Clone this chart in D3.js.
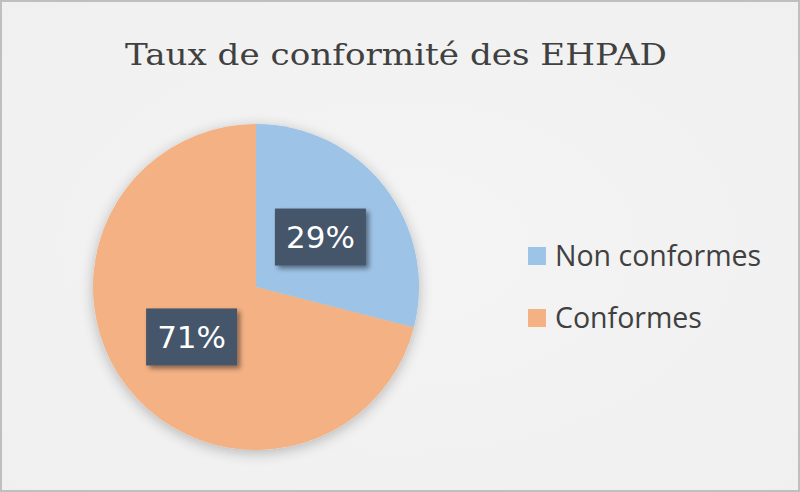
<!DOCTYPE html>
<html><head><meta charset="utf-8">
<script src="https://cdn.jsdelivr.net/npm/d3@7"></script>
<style>html,body{margin:0;padding:0;background:#fff;}svg{display:block;}</style>
</head><body>
<svg id="chart" width="800" height="492"></svg>
<script>
const title = "Taux de conformité des EHPAD";
const categories = ["Non conformes", "Conformes"];
const values = [29, 71];
const colors = ["#9dc3e6", "#f4b183"];

const W = 800, H = 492;
const svg = d3.select("#chart");
const defs = svg.append("defs");

const bg = defs.append("radialGradient").attr("id", "bg").attr("cx", "50%").attr("cy", "50%").attr("r", "70%");
bg.append("stop").attr("offset", "0%").attr("stop-color", "#f4f4f4");
bg.append("stop").attr("offset", "100%").attr("stop-color", "#f0f0f0");

const sh = defs.append("filter").attr("id", "pieShadow").attr("x", "-20%").attr("y", "-20%").attr("width", "140%").attr("height", "140%");
sh.append("feGaussianBlur").attr("in", "SourceAlpha").attr("stdDeviation", 7).attr("result", "b");
sh.append("feOffset").attr("in", "b").attr("dx", 0).attr("dy", 3).attr("result", "o");
sh.append("feComponentTransfer").attr("in", "o").attr("result", "c").append("feFuncA").attr("type", "linear").attr("slope", 0.25);
const m1 = sh.append("feMerge"); m1.append("feMergeNode").attr("in", "c"); m1.append("feMergeNode").attr("in", "SourceGraphic");

const bs = defs.append("filter").attr("id", "boxShadow").attr("x", "-20%").attr("y", "-20%").attr("width", "150%").attr("height", "160%");
bs.append("feGaussianBlur").attr("in", "SourceAlpha").attr("stdDeviation", 2.5).attr("result", "b");
bs.append("feOffset").attr("in", "b").attr("dx", 3).attr("dy", 3).attr("result", "o");
bs.append("feComponentTransfer").attr("in", "o").attr("result", "c").append("feFuncA").attr("type", "linear").attr("slope", 0.45);
const m2 = bs.append("feMerge"); m2.append("feMergeNode").attr("in", "c"); m2.append("feMergeNode").attr("in", "SourceGraphic");

svg.append("rect").attr("x", 1).attr("y", 1).attr("width", W - 2).attr("height", H - 2)
  .attr("fill", "url(#bg)").attr("stroke", "#bfbfbf").attr("stroke-width", 2);

svg.append("text").attr("x", 396).attr("y", 65).attr("text-anchor", "middle")
  .attr("font-family", "'DejaVu Serif', serif").attr("font-size", 29).attr("fill", "#404040")
  .attr("font-weight", 300).attr("textLength", 542).attr("lengthAdjust", "spacingAndGlyphs")
  .text(title);

const cx = 256, cy = 287, R = 163;
const pie = d3.pie().sort(null).value(d => d)(values);
const arc = d3.arc().innerRadius(0).outerRadius(R);
const g = svg.append("g").attr("transform", `translate(${cx},${cy})`);
g.append("g").attr("filter", "url(#pieShadow)").selectAll("path").data(pie).join("path")
  .attr("d", arc).attr("fill", (d, i) => colors[i]);

const labelArc = d3.arc().innerRadius(R * 0.5).outerRadius(R * 0.5);
const bw = 91, bh = 57;
const lbl = g.selectAll("g.lbl").data(pie).join("g").attr("class", "lbl")
  .attr("transform", d => { const c = labelArc.centroid(d); return `translate(${c[0]},${c[1]})`; });
lbl.append("rect").attr("x", -bw / 2).attr("y", -bh / 2).attr("width", bw).attr("height", bh)
  .attr("fill", "#44546a").attr("filter", "url(#boxShadow)");
lbl.append("text").attr("text-anchor", "middle").attr("dy", "0.36em")
  .attr("font-family", "'DejaVu Sans', Verdana, sans-serif").attr("font-size", 31).attr("fill", "#ffffff")
  .text(d => Math.round(d.data) + "%");

const legend = svg.append("g");
const ly = d3.scaleBand().domain(categories).range([225, 349]).paddingInner(0);
const li = legend.selectAll("g").data(categories).join("g")
  .attr("transform", d => `translate(528,${ly(d) + ly.bandwidth() / 2})`);
li.append("rect").attr("x", 0).attr("y", -9).attr("width", 18).attr("height", 18).attr("fill", (d, i) => colors[i]);
li.append("text").attr("x", 27).attr("y", 0).attr("dy", "0.35em")
  .attr("font-family", "'Open Sans', 'Noto Sans', sans-serif").attr("font-size", 28.5).attr("fill", "#404040")
  .text(d => d);
</script>
</body></html>
